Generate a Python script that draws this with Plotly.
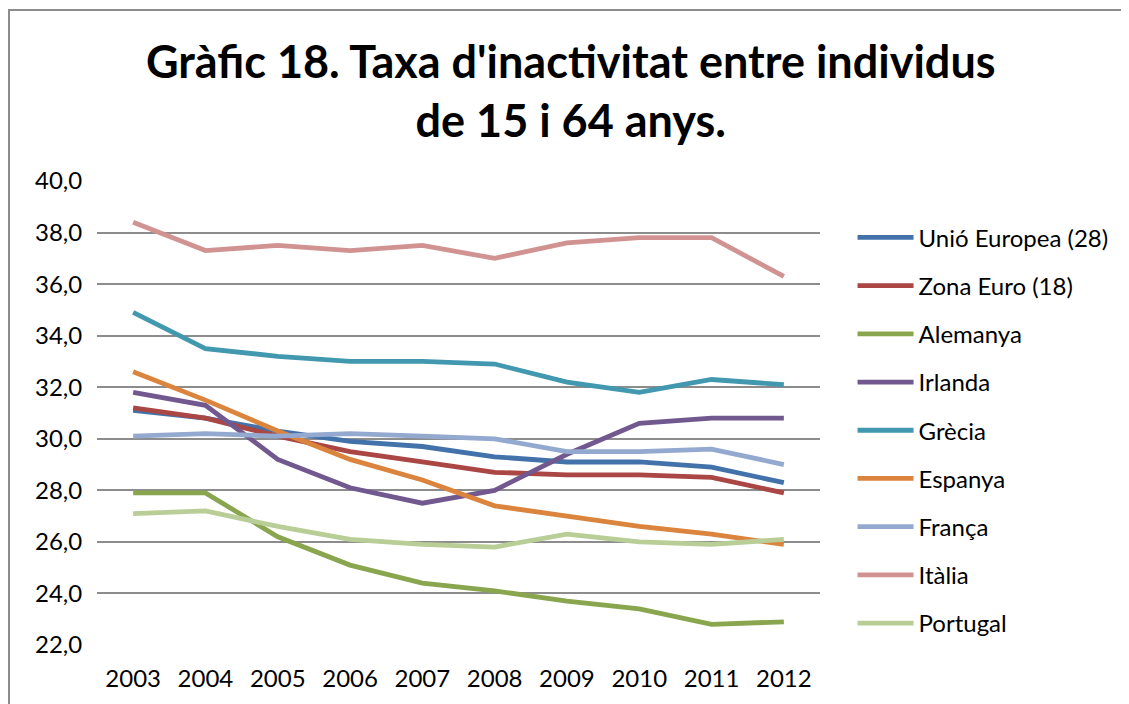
import plotly.graph_objects as go

years = ["2003", "2004", "2005", "2006", "2007", "2008", "2009", "2010", "2011", "2012"]

ue28 = [31.1, 30.8, 30.3, 29.9, 29.7, 29.3, 29.1, 29.1, 28.9, 28.3]
zona_euro = [31.2, 30.8, 30.1, 29.5, 29.1, 28.7, 28.6, 28.6, 28.5, 27.9]
alemanya = [27.9, 27.9, 26.2, 25.1, 24.4, 24.1, 23.7, 23.4, 22.8, 22.9]
irlanda = [31.8, 31.3, 29.2, 28.1, 27.5, 28.0, 29.4, 30.6, 30.8, 30.8]
grecia = [34.9, 33.5, 33.2, 33.0, 33.0, 32.9, 32.2, 31.8, 32.3, 32.1]
espanya = [32.6, 31.5, 30.3, 29.2, 28.4, 27.4, 27.0, 26.6, 26.3, 25.9]
franca = [30.1, 30.2, 30.1, 30.2, 30.1, 30.0, 29.5, 29.5, 29.6, 29.0]
italia = [38.4, 37.3, 37.5, 37.3, 37.5, 37.0, 37.6, 37.8, 37.8, 36.3]
portugal = [27.1, 27.2, 26.6, 26.1, 25.9, 25.8, 26.3, 26.0, 25.9, 26.1]

series = [
    ("Unió Europea (28)", ue28, "#4372AA"),
    ("Zona Euro (18)", zona_euro, "#AA4643"),
    ("Alemanya", alemanya, "#89A54E"),
    ("Irlanda", irlanda, "#71588F"),
    ("Grècia", grecia, "#4198AF"),
    ("Espanya", espanya, "#DB843D"),
    ("França", franca, "#93A9CF"),
    ("Itàlia", italia, "#D19392"),
    ("Portugal", portugal, "#B9CD96"),
]

FONT = "Lato"

fig = go.Figure()
for name, vals, col in series:
    fig.add_trace(go.Scatter(
        x=years, y=vals, name=name, mode="lines", legendgroup=name,
        line=dict(color=col, width=4.8),
    ))

# page body adds 8px margin, so the figure is 8px smaller than the window
fig.update_layout(
    width=1121, height=696,
    margin=dict(l=89, r=309, t=173, b=59),
    paper_bgcolor="white", plot_bgcolor="white",
    separators=",.",
    font=dict(family=FONT, size=24, color="black"),
    showlegend=True,
    legend=dict(
        x=1.045, xanchor="left", y=0.926, yanchor="top",
        font=dict(family=FONT, size=24),
        tracegroupgap=14, itemwidth=56,
        bgcolor="rgba(0,0,0,0)",
    ),
    xaxis=dict(
        type="category", range=[-0.5, 9.5],
        showgrid=False, showline=False, zeroline=False,
        ticks="outside", ticklen=12, tickcolor="rgba(0,0,0,0)",
        tickfont=dict(size=24),
    ),
    yaxis=dict(
        range=[22, 40], dtick=2, tickformat=".1f",
        showgrid=True, gridcolor="#8C8C8C", gridwidth=2,
        zeroline=False, showline=False,
        ticks="outside", ticklen=9, tickcolor="rgba(0,0,0,0)",
        tickfont=dict(size=24),
    ),
    annotations=[dict(
        text="<b>Gràfic 18. Taxa d'inactivitat entre individus<br>de 15 i 64 anys.</b>",
        xref="paper", yref="paper", x=0.655, y=1.196,
        xanchor="center", yanchor="middle", showarrow=False,
        font=dict(family=FONT, size=45, color="black"),
    )],
    shapes=[dict(
        type="rect", xref="paper", yref="paper",
        x0=-0.1217, x1=1.5, y0=-0.2, y1=1.3685,
        line=dict(color="#8C8C8C", width=2), layer="below",
    )],
)

fig.write_html("out.html")
